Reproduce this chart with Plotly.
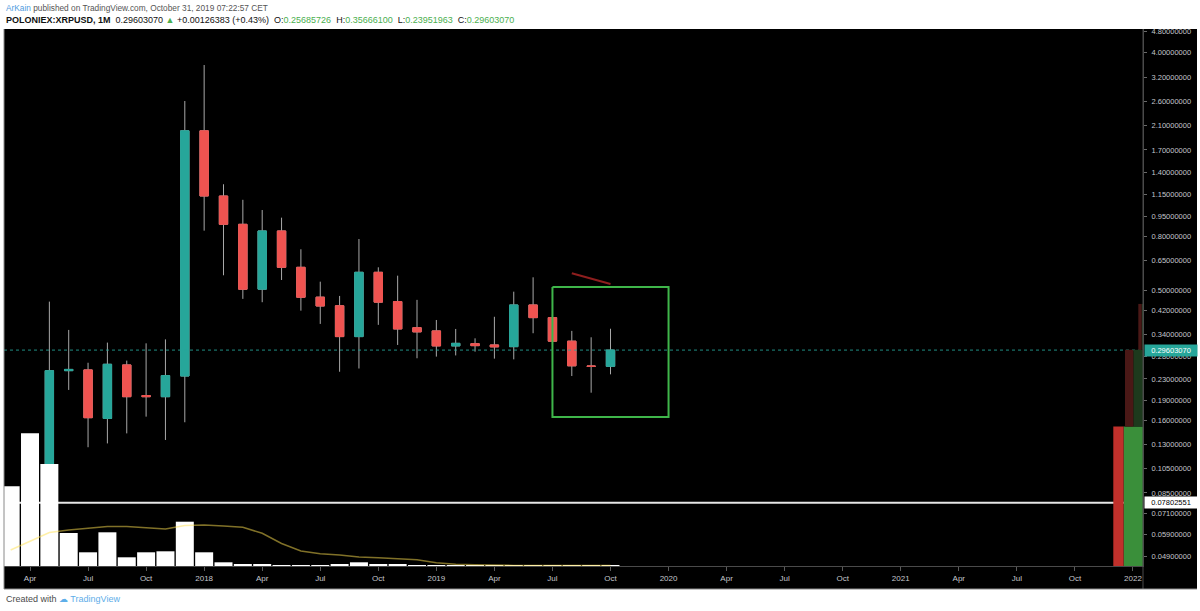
import math
import plotly.graph_objects as go

# ---------------- data ----------------
months = ["2017-03", "2017-04", "2017-05", "2017-06", "2017-07", "2017-08", "2017-09", "2017-10",
          "2017-11", "2017-12", "2018-01", "2018-02", "2018-03", "2018-04", "2018-05", "2018-06",
          "2018-07", "2018-08", "2018-09", "2018-10", "2018-11", "2018-12", "2019-01", "2019-02",
          "2019-03", "2019-04", "2019-05", "2019-06", "2019-07", "2019-08", "2019-09", "2019-10"]
opens = [0.0062, 0.0217, 0.0565, 0.2473, 0.249, 0.163, 0.260, 0.199,
         0.197, 0.236, 2.01, 1.137, 0.888, 0.504, 0.838, 0.610,
         0.470, 0.436, 0.333, 0.584, 0.452, 0.360, 0.350, 0.307,
         0.313, 0.3096, 0.305, 0.439, 0.393, 0.320, 0.2575, 0.25685726]
highs = [0.0349, 0.0596, 0.452, 0.353, 0.265, 0.316, 0.270, 0.314,
         0.325, 2.607, 3.57, 1.26, 1.10, 1.006, 0.941, 0.714,
         0.538, 0.475, 0.781, 0.610, 0.567, 0.459, 0.385, 0.356,
         0.328, 0.396, 0.493, 0.559, 0.405, 0.350, 0.331, 0.35666100]
lows = [0.0058, 0.0212, 0.0560, 0.209, 0.1267, 0.131, 0.143, 0.1655,
        0.135, 0.1576, 0.840, 0.569, 0.463, 0.4497, 0.546, 0.4177,
        0.372, 0.245, 0.252, 0.369, 0.3096, 0.2756, 0.2796, 0.2825,
        0.292, 0.2747, 0.273, 0.343, 0.312, 0.236, 0.204, 0.23951963]
closes = [0.0217, 0.0565, 0.2473, 0.2500, 0.164, 0.2615, 0.197, 0.197,
          0.2368, 2.01, 1.137, 0.888, 0.5036, 0.838, 0.610, 0.4696,
          0.435, 0.333, 0.584, 0.450, 0.356, 0.347, 0.307, 0.314,
          0.3077, 0.3044, 0.439, 0.393, 0.320, 0.258, 0.25686, 0.29603070]
volumes = [797, 1327, 1020, 330, 137, 337, 87, 137, 147, 443, 137, 37, 17, 17, 7, 5,
           7, 13, 37, 13, 20, 7, 8, 6, 6, 6, 9, 9, 7, 6, 5, 4]           # millions
volume_ma = [160, 250, 335, 360, 380, 395, 395, 380, 370, 405, 410, 400, 387, 327, 225, 150,
             123, 110, 90, 82, 75, 63, 32, 18, 13, 8, 6, 6, 6, 5, 5, 5]

time_tick_months = ["2017-04", "2017-07", "2017-10", "2018-01", "2018-04", "2018-07", "2018-10",
                    "2019-01", "2019-04", "2019-07", "2019-10", "2020-01", "2020-04", "2020-07",
                    "2020-10", "2021-01", "2021-04", "2021-07", "2021-10", "2022-01"]
time_tick_labels = ["Apr", "Jul", "Oct", "2018", "Apr", "Jul", "Oct", "2019", "Apr", "Jul", "Oct",
                    "2020", "Apr", "Jul", "Oct", "2021", "Apr", "Jul", "Oct", "2022"]
price_ticks = [4.8, 4.0, 3.2, 2.6, 2.1, 1.7, 1.4, 1.15, 0.95, 0.80, 0.65, 0.50, 0.42, 0.34,
               0.28, 0.23, 0.19, 0.16, 0.13, 0.105, 0.085, 0.071, 0.059, 0.049]

last_price = 0.29603070
level_price = 0.07802551
change_text = "+0.00126383 (+0.43%)"

# volume profile rows (price bounds, up / down volume)
profile_low = [0.0058, 0.1517, 0.2968]
profile_high = [0.1517, 0.2968, 0.443]
profile_up = [19.4, 9.7, 1.3]
profile_down = [10.3, 8.3, 3.4]
profile_value_area = [True, False, False]

# user drawings
box_from, box_to = "2019-07", "2020-01"
box_top, box_bottom = 0.5135, 0.1651
trend_from, trend_to = "2019-08", "2019-10"
trend_p0, trend_p1 = 0.579, 0.527

# ---------------- styling ----------------
UP = "#26a69a"
DOWN = "#ef5350"
WICK = "#a8a8a8"
AXIS_TXT = "#c4c6cc"
FONT = "Liberation Sans, Arial, sans-serif"

W, H = 1200, 611
PL, PR, PT, PB = 4, 1143, 29, 566


def month_index(label):
    y, m = map(int, label.split("-"))
    y0, m0 = map(int, months[0].split("-"))
    return (y - y0) * 12 + (m - m0)


def pxx(x):
    return (x - PL) / (PR - PL)


def pxy(y):
    return (PB - y) / (PB - PT)


idx = [month_index(m) for m in months]
tick_idx = [month_index(m) for m in time_tick_months]
x_range = [-0.344, 58.52]
y_range_price = [0.0449, 4.89]

fig = go.Figure()

# wicks (grey)
fig.add_trace(go.Candlestick(
    x=idx, open=opens, high=highs, low=lows, close=closes,
    increasing=dict(line=dict(color=WICK, width=1), fillcolor=WICK),
    decreasing=dict(line=dict(color=WICK, width=1), fillcolor=WICK),
    whiskerwidth=0, hoverinfo="skip", showlegend=False))
# bodies
body_hi = [max(o, c) for o, c in zip(opens, closes)]
body_lo = [min(o, c) for o, c in zip(opens, closes)]
fig.add_trace(go.Candlestick(
    x=idx, open=opens, high=body_hi, low=body_lo, close=closes,
    increasing=dict(line=dict(color=UP, width=1), fillcolor=UP),
    decreasing=dict(line=dict(color=DOWN, width=1), fillcolor=DOWN),
    whiskerwidth=0, hoverinfo="skip", showlegend=False))

# horizontal level line & last price line
fig.add_trace(go.Scatter(x=x_range, y=[level_price, level_price], mode="lines",
                         line=dict(color="#e6e6e6", width=2), hoverinfo="skip"))
fig.add_trace(go.Scatter(x=x_range, y=[last_price, last_price], mode="lines",
                         line=dict(color="rgba(38,166,154,0.85)", width=1, dash="dot"),
                         hoverinfo="skip"))

# green box
bx0, bx1 = month_index(box_from), month_index(box_to)
fig.add_trace(go.Scatter(x=[bx0, bx1, bx1, bx0, bx0],
                         y=[box_top, box_top, box_bottom, box_bottom, box_top],
                         mode="lines", line=dict(color="#3fb54a", width=2), hoverinfo="skip"))
# trend line
fig.add_trace(go.Scatter(x=[month_index(trend_from), month_index(trend_to)],
                         y=[trend_p0, trend_p1], mode="lines",
                         line=dict(color="#8e1e1e", width=2), hoverinfo="skip"))

# volume overlay
fig.add_trace(go.Bar(x=idx, y=volumes, yaxis="y2", width=0.93,
                     marker=dict(color="#ffffff", line=dict(width=0)), hoverinfo="skip"))
fig.add_trace(go.Scatter(x=idx, y=volume_ma, yaxis="y2", mode="lines",
                         line=dict(color="rgba(255,226,80,0.5)", width=1.5), hoverinfo="skip"))

# volume profile on the right
for lo, hi, up, dn, va in zip(profile_low, profile_high, profile_up, profile_down, profile_value_area):
    gcol = "#3a8f3a" if va else "#1d3a1d"
    rcol = "#c0302b" if va else "#4a1816"
    fig.add_trace(go.Scatter(x=[0, up, up, 0, 0], y=[lo, lo, hi, hi, lo], xaxis="x3",
                             mode="lines", fill="toself", fillcolor=gcol,
                             line=dict(width=0, color=gcol), hoverinfo="skip"))
    fig.add_trace(go.Scatter(x=[up, up + dn, up + dn, up, up], y=[lo, lo, hi, hi, lo], xaxis="x3",
                             mode="lines", fill="toself", fillcolor=rcol,
                             line=dict(width=0, color=rcol), hoverinfo="skip"))

shapes = [
    # black chart widget background (incl. axes areas)
    dict(type="rect", xref="paper", yref="paper", x0=0, x1=pxx(1197), y0=pxy(589), y1=1,
         fillcolor="black", line=dict(width=0), layer="below"),
    # price-axis separator down through the time axis
    dict(type="line", xref="paper", yref="paper", x0=1, x1=1, y0=pxy(589), y1=1,
         line=dict(color="#4a4a4a", width=1), layer="above"),
    # widget borders
    dict(type="line", xref="paper", yref="paper", x0=0, x1=0, y0=pxy(589), y1=1,
         line=dict(color="#8a8a8a", width=1), layer="above"),
    dict(type="line", xref="paper", yref="paper", x0=0, x1=pxx(1197), y0=pxy(589), y1=pxy(589),
         line=dict(color="#8a8a8a", width=1), layer="above"),
    # white strip above chart (clips top tick label)
    dict(type="rect", xref="paper", yref="paper", x0=1, x1=pxx(1200), y0=1, y1=pxy(0),
         fillcolor="white", line=dict(width=0), layer="above"),
]

green = "#4caf50"
line2 = (f"<b>POLONIEX:XRPUSD, 1M</b>  {closes[-1]:.8f} <span style='color:{green}'>▲</span> "
         f"{change_text}  O:<span style='color:{green}'>{opens[-1]:.8f}</span>  "
         f"H:<span style='color:{green}'>{highs[-1]:.8f}</span>  "
         f"L:<span style='color:{green}'>{lows[-1]:.8f}</span>  "
         f"C:<span style='color:{green}'>{closes[-1]:.8f}</span>")

annotations = [
    dict(xref="paper", yref="paper", x=0, y=pxy(8), xanchor="left", yanchor="middle",
         showarrow=False, font=dict(family=FONT, size=8.3, color="#555555"),
         text="<span style='color:#4f9be0'>ArKain</span> published on TradingView.com, October 31, 2019 07:22:57 CET"),
    dict(xref="paper", yref="paper", x=0, y=pxy(20), xanchor="left", yanchor="middle",
         showarrow=False, font=dict(family=FONT, size=9, color="#111111"), text=line2),
    dict(xref="paper", yref="paper", x=0, y=pxy(599), xanchor="left", yanchor="middle",
         showarrow=False, font=dict(family=FONT, size=9, color="#4a4a4a"),
         text="Created with <span style='color:#5eaee9'>☁ TradingView</span>"),
    dict(xref="paper", yref="y", x=1, y=math.log10(last_price), xanchor="left", yanchor="middle",
         xshift=1, showarrow=False, width=52, height=11, bgcolor=UP, borderpad=0,
         font=dict(family=FONT, size=7.5, color="white"), text=f"{last_price:.8f}"),
    dict(xref="paper", yref="y", x=1, y=math.log10(level_price), xanchor="left", yanchor="middle",
         xshift=1, showarrow=False, width=52, height=11, bgcolor="white", borderpad=0,
         font=dict(family=FONT, size=7.5, color="black"), text=f"{level_price:.8f}"),
]

fig.update_layout(
    width=W, height=H, margin=dict(l=PL, r=W - PR, t=PT, b=H - PB, pad=0),
    paper_bgcolor="white", plot_bgcolor="black", showlegend=False, hovermode=False,
    boxgap=0.38, boxmode="overlay", barmode="overlay",
    font=dict(family=FONT),
    xaxis=dict(range=x_range, tickvals=tick_idx, ticktext=time_tick_labels,
               showgrid=False, zeroline=False, showline=True, linecolor="#4a4a4a",
               ticks="outside", ticklen=4, tickcolor="#5a5a5a",
               tickfont=dict(family=FONT, size=8, color=AXIS_TXT),
               rangeslider=dict(visible=False), fixedrange=True),
    yaxis=dict(type="log", range=[math.log10(y_range_price[0]), math.log10(y_range_price[1])],
               side="right", tickvals=price_ticks, tickformat=".8f",
               showgrid=False, zeroline=False, showline=True, linecolor="#4a4a4a",
               ticks="outside", ticklen=3, tickcolor="#6a6a6a", ticklabelstandoff=3,
               tickfont=dict(family=FONT, size=7.5, color=AXIS_TXT), fixedrange=True),
    yaxis2=dict(overlaying="y", range=[0, 5370], visible=False, fixedrange=True),
    xaxis3=dict(overlaying="x", range=[PR - PL, 0], visible=False, fixedrange=True),
    shapes=shapes, annotations=annotations,
)

fig.write_html("out.html", config={"displayModeBar": False},
               post_script="document.body.style.margin='0';")
